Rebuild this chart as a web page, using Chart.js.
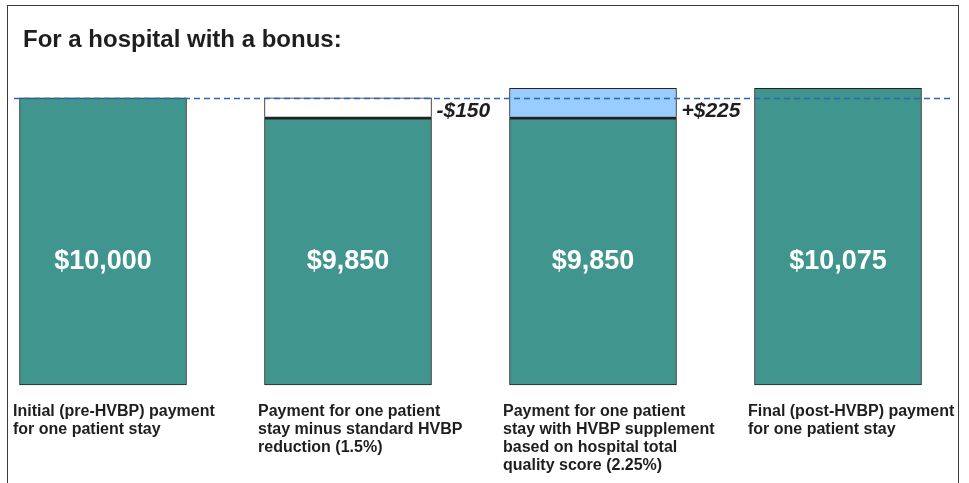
<!DOCTYPE html>
<html>
<head>
<meta charset="utf-8">
<script src="https://cdn.jsdelivr.net/npm/chart.js@4.4.1/dist/chart.umd.min.js"></script>
<style>
  html, body { margin: 0; padding: 0; background: #fff; overflow: hidden; }
  #wrap { position: relative; width: 969px; height: 483px; }
  #frame { position: absolute; left: 7px; top: 5px; width: 950px; height: 600px;
           border: 1.5px solid #3a3a3a; pointer-events: none; }
</style>
</head>
<body>
<div id="wrap">
  <canvas id="hvbpChart"></canvas>
  <div id="frame"></div>
</div>
<script>
const categories = [
    ['Initial (pre-HVBP) payment', 'for one patient stay'],
    ['Payment for one patient', 'stay minus standard HVBP', 'reduction (1.5%)'],
    ['Payment for one patient', 'stay with HVBP supplement', 'based on hospital total', 'quality score (2.25%)'],
    ['Final (post-HVBP) payment', 'for one patient stay']
];
const baseValues = [10000, 9850, 9850, 10075];
const changeValues = [0, 150, 225, 0];
const valueLabels = ['$10,000', '$9,850', '$9,850', '$10,075'];
const changeLabels = ['', '-$150', '+$225', ''];

const yMin = 7730;
const yMax = 10300;

const teal = '#40968e';
const changeColors = ['#ffffff', '#ffffff', '#99ccff', '#ffffff'];
const fontFamily = '"Liberation Sans", Arial, sans-serif';

const overlay = {
    id: 'overlay',
    afterDatasetsDraw(chart) {
        const ctx = chart.ctx;
        const bars = chart.getDatasetMeta(0).data;
        ctx.save();
        ctx.textBaseline = 'middle';

        ctx.fillStyle = '#fff';
        ctx.textAlign = 'center';
        ctx.font = 'bold 27px ' + fontFamily;
        bars.forEach((bar, i) => ctx.fillText(valueLabels[i], bar.x, bar.base - 123));

        ctx.fillStyle = '#1e1e1e';
        ctx.textAlign = 'left';
        ctx.font = 'italic bold 21px ' + fontFamily;
        bars.forEach((bar, i) => {
            if (changeLabels[i]) ctx.fillText(changeLabels[i], bar.x + bar.width / 2 + 5, bar.y - 6);
        });

        // dashed reference line at the initial payment
        const ry = Math.round(chart.scales.y.getPixelForValue(baseValues[0])) + 0.5;
        ctx.strokeStyle = '#2a66ad';
        ctx.lineWidth = 1.4;
        ctx.setLineDash([6, 4]);
        ctx.beginPath();
        ctx.moveTo(14, ry);
        ctx.lineTo(952, ry);
        ctx.stroke();
        ctx.restore();
    }
};

new Chart(document.getElementById('hvbpChart'), {
    type: 'bar',
    data: {
        labels: categories,
        datasets: [
            {
                data: baseValues,
                base: yMin,
                backgroundColor: teal,
                borderColor: '#222',
                borderWidth: c => changeValues[c.dataIndex] ? {top: 3, left: 1, right: 1, bottom: 1} : 1,
                borderSkipped: false,
                clip: false
            },
            {
                data: changeValues.map(v => v || null),
                backgroundColor: changeColors,
                borderColor: '#222',
                borderWidth: {top: 1, left: 1, right: 1, bottom: 0},
                borderSkipped: false,
                clip: false
            }
        ]
    },
    options: {
        responsive: true,
        maintainAspectRatio: false,
        animation: false,
        barThickness: 167,
        layout: { padding: { left: 23, right: 131, top: 0, bottom: 0 } },
        plugins: {
            legend: { display: false },
            tooltip: { enabled: false },
            title: {
                display: true,
                text: 'For a hospital with a bonus:',
                align: 'start',
                color: '#1e1e1e',
                font: { family: fontFamily, size: 24, weight: 'bold', lineHeight: 1.2 },
                padding: { top: 26, bottom: 5 }
            }
        },
        scales: {
            x: {
                stacked: true,
                offset: false,
                grid: { display: false, drawTicks: false },
                border: { display: false },
                ticks: {
                    align: 'start',
                    labelOffset: -90,
                    padding: 18,
                    autoSkip: false,
                    maxRotation: 0,
                    color: '#1e1e1e',
                    font: { family: fontFamily, size: 16, weight: 'bold', lineHeight: 1.125 }
                },
                afterFit(s) { s.height = 98; s.paddingLeft = 0; s.paddingRight = 0; }
            },
            y: {
                stacked: true,
                min: yMin,
                max: yMax,
                grid: { display: false },
                border: { display: false },
                ticks: { display: false },
                afterFit(s) { s.width = 80; }
            }
        }
    },
    plugins: [overlay]
});
</script>
</body>
</html>
